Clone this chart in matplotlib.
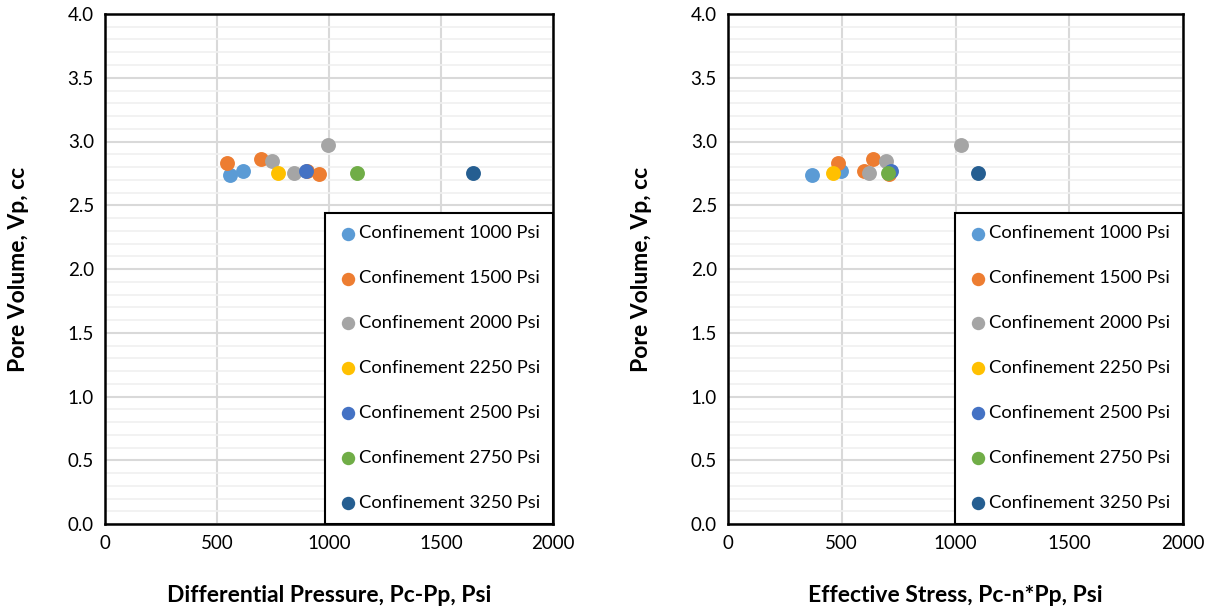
import numpy as np
import matplotlib.pyplot as plt
from matplotlib.ticker import MultipleLocator

plt.rcParams['font.family'] = ['Lato', 'DejaVu Sans']

labels = ['Confinement 1000 Psi', 'Confinement 1500 Psi', 'Confinement 2000 Psi',
          'Confinement 2250 Psi', 'Confinement 2500 Psi', 'Confinement 2750 Psi',
          'Confinement 3250 Psi']
colors = ['#5B9BD5', '#ED7D31', '#A5A5A5', '#FFC000', '#4472C4', '#70AD47', '#255E91']

# pore volume, cc
vp = [[2.737, 2.771],
      [2.829, 2.86, 2.77, 2.743],
      [2.847, 2.755, 2.973],
      [2.75],
      [2.771],
      [2.755],
      [2.75]]
# differential pressure Pc-Pp, psi
dp = [[558, 615],
      [546, 695, 900, 954],
      [746, 845, 997],
      [774],
      [897],
      [1124],
      [1644]]
# effective stress Pc-n*Pp, psi
es = [[368, 496],
      [484, 636, 598, 708],
      [696, 621, 1026],
      [462],
      [718],
      [702],
      [1099]]

fig = plt.figure(figsize=(12.17, 6.12), dpi=100)
ax1 = fig.add_axes([105/1217, 88/612, 448/1217, 510/612])
ax2 = fig.add_axes([728/1217, 88/612, 455/1217, 510/612])

for ax, xs, xl in [(ax1, dp, 'Differential Pressure, Pc-Pp, Psi'),
                   (ax2, es, 'Effective Stress, Pc-n*Pp, Psi')]:
    for x, y, c, lab in zip(xs, vp, colors, labels):
        ax.scatter(x, y, s=115, color=c, label=lab, zorder=3, linewidths=0)
    ax.set_xlim(0, 2000)
    ax.set_ylim(0, 4)
    ax.xaxis.set_major_locator(MultipleLocator(500))
    ax.yaxis.set_major_locator(MultipleLocator(0.5))
    ax.yaxis.set_minor_locator(MultipleLocator(0.1))
    ax.yaxis.set_major_formatter(plt.FormatStrFormatter('%.1f'))
    ax.grid(True, which='major', color='#D9D9D9', lw=1.5, zorder=0)
    ax.grid(True, which='minor', axis='y', color='#F0F0F0', lw=1.2, zorder=0)
    ax.set_axisbelow(True)
    ax.tick_params(which='both', length=0, labelsize=13.5, pad=8)
    for sp in ax.spines.values():
        sp.set_linewidth(1.8)
        sp.set_color('black')
    ax.set_xlabel(xl, fontsize=16.5, fontweight='bold', labelpad=24)
    ax.set_ylabel('Pore Volume, Vp, cc', fontsize=16.5, fontweight='bold', labelpad=28)
    leg = ax.legend(loc='lower right', borderaxespad=0, fancybox=False,
                    edgecolor='black', fontsize=13.2, labelspacing=1.58,
                    handletextpad=0.05, handlelength=1.1, borderpad=0.7,
                    markerscale=0.9, framealpha=1)
    leg.get_frame().set_linewidth(1.5)

fig.savefig('out.png', dpi=100)
